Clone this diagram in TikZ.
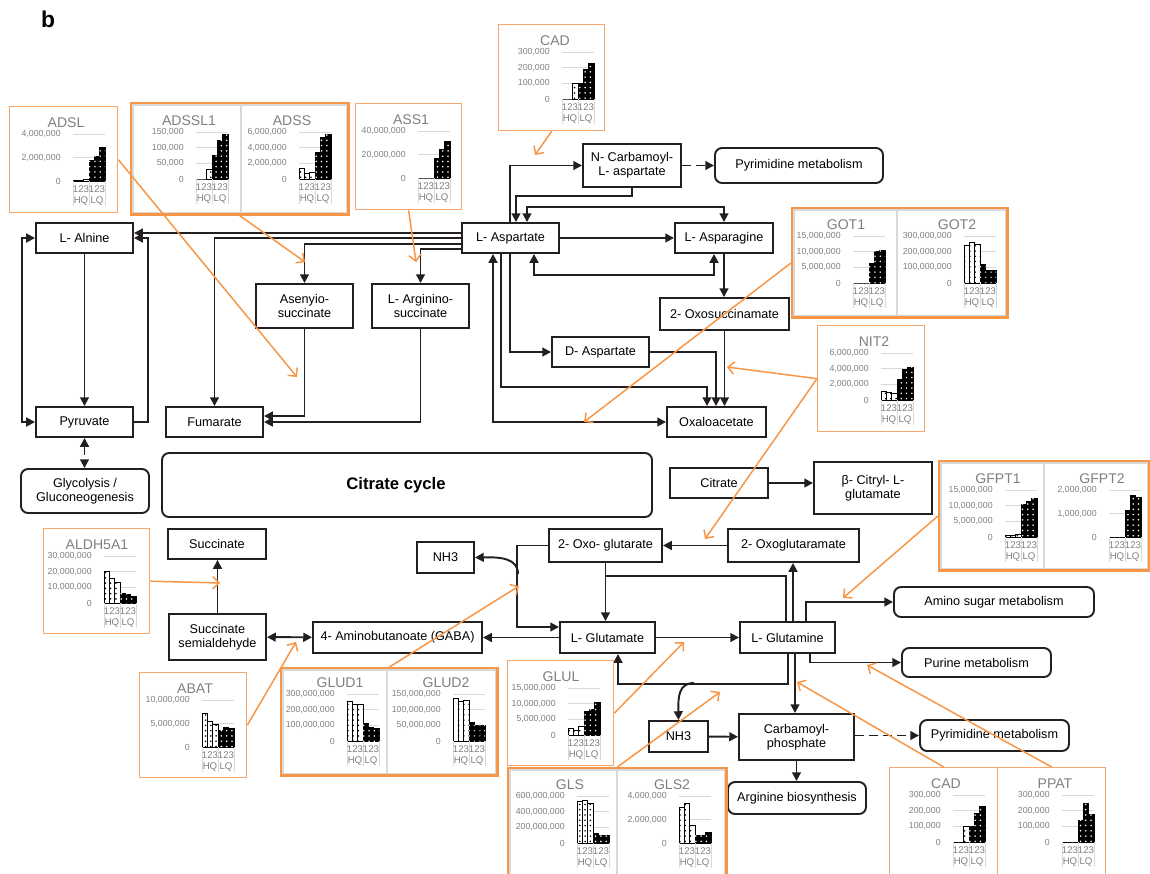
\documentclass[tikz,border=0pt]{standalone}
\usepackage{fontspec}
\setmainfont{Liberation Sans}
\usetikzlibrary{arrows.meta,patterns}

\definecolor{chartorange}{HTML}{F79646}
\definecolor{lightorange}{HTML}{F8A76C}
\definecolor{chartgray}{HTML}{7F7F7F}
\definecolor{gridgray}{HTML}{D9D9D9}
\definecolor{linegray}{HTML}{231F20}

\newcommand{\boxfont}{\fontsize{7.2}{8}\selectfont}
\newcommand{\tcafont}{\fontsize{9.5}{11}\selectfont\bfseries}
\newcommand{\chtitlefont}{\fontsize{8}{9}\selectfont}
\newcommand{\chtickfont}{\fontsize{5}{6}\selectfont}
\newcommand{\chcatfont}{\fontsize{5.5}{6}\selectfont}

% small bar chart: name, origin, title, number of ticks, tick labels, bar heights
\newcommand{\minichart}[6]{%
  \begin{scope}[shift={(#2)}]
    \node[ctitle] (#1-t) at (57,17) {#3};
    \foreach \lab [count=\ki] in {#5} {
      \pgfmathsetmacro{\ty}{28+(\ki-1)*47/(#4-1)}
      \draw[cgrid] (64,\ty) -- (96,\ty);
      \node[ctick] (#1-y\ki) at (52,\ty) {\lab};
    }
    \foreach \bh [count=\bi] in {#6} {
      \pgfmathsetmacro{\bx}{64+(\bi-1)*32/6}
      \ifnum\bi<4
        \draw[hqbar] (\bx,75) rectangle ++(32/6,-\bh);
      \else
        \draw[lqbar] (\bx,75) rectangle ++(32/6,-\bh);
      \fi
    }
    \draw[cgrid] (64,75) -- (64,100) (80,75) -- (80,100) (96,75) -- (96,100);
    \node[ccat] (#1-c1) at (72,83) {123};
    \node[ccat] (#1-c2) at (88,83) {123};
    \node[ccat] (#1-hq) at (72,95) {HQ};
    \node[ccat] (#1-lq) at (88,95) {LQ};
  \end{scope}}

\begin{document}
\begin{tikzpicture}[
    x=0.02cm, y=-0.02cm,
    >={Triangle[length=5pt,width=5pt]},
    sz/.style 2 args={minimum width=#1*0.02cm, minimum height=#2*0.02cm},
    met/.style={draw=linegray, line width=1.1pt, inner sep=0pt, align=center, font=\boxfont},
    pway/.style={met, rounded corners=4pt},
    conv/.style={->, line width=1.1pt, draw=linegray},
    dashlink/.style={conv, dash pattern=on 5pt off 3pt},
    hint/.style={draw=chartorange, line width=0.85pt, -{Straight Barb[length=3.5pt,width=7pt]}},
    sbox/.style={draw=lightorange, line width=0.75pt, anchor=north west, inner sep=0pt},
    dbox/.style={draw=chartorange, line width=1.6pt, anchor=north west, inner sep=0pt},
    inframe/.style={draw=gridgray, line width=0.6pt},
    cgrid/.style={draw=gridgray, line width=0.4pt},
    ctitle/.style={font=\chtitlefont, text=chartgray, inner sep=0pt},
    ctick/.style={font=\chtickfont, text=chartgray, inner sep=0pt, anchor=east},
    ccat/.style={font=\chcatfont, text=chartgray, inner sep=0pt},
    hqbar/.style={draw=black, line width=0.4pt, fill=white, postaction={pattern=dots, pattern color=black}},
    lqbar/.style={draw=black, line width=0.4pt, fill=black, postaction={pattern=dots, pattern color=white}}
  ]
  \useasboundingbox (0,0) rectangle (1150,873);
  \clip (0,0) rectangle (1150,873);

  \node[font=\fontsize{13}{15}\selectfont\bfseries] (panel) at (48,19) {b};

  % upper part
  \node[met, sz={98}{43}] (ncarb) at (632,165.5) {N- Carbamoyl-\\L- aspartate};
  \node[pway, sz={168}{35}] (pyr1) at (799,165.5) {Pyrimidine metabolism};
  \node[met, sz={97}{30}] (asp) at (510.5,238) {L- Aspartate};
  \node[met, sz={98}{30}] (asn) at (724,238) {L- Asparagine};
  \node[met, sz={129}{32}] (oxsuc) at (724.5,314) {2- Oxosuccinamate};
  \node[met, sz={97}{30}] (dasp) at (600.5,352) {D- Aspartate};
  \node[met, sz={99}{30}] (oaa) at (716.5,422) {Oxaloacetate};
  \node[met, sz={97}{30}] (ala) at (84.5,238) {L- Alnine};
  \node[met, sz={97}{44}] (adsucc) at (304.5,306) {Asenyio-\\succinate};
  \node[met, sz={97}{44}] (argsucc) at (420.5,306) {L- Arginino-\\succinate};
  \node[met, sz={97}{30}] (pyru) at (84.5,422) {Pyruvate};
  \node[met, sz={97}{30}] (fum) at (214.5,422) {Fumarate};
  \node[pway, sz={128}{44}] (glyc) at (85,491) {Glycolysis /\\Gluconeogenesis};
  \node[pway, sz={490}{64}, font=\tcafont] (tca) at (407,485) {Citrate cycle\hspace*{0.44cm}};
  \node[met, sz={98}{30}] (cit) at (719,483) {Citrate};
  \node[met, sz={118}{52}] (bcit) at (873,488) {β- Citryl- L-\\glutamate};

  \draw[conv] (asp.north -| 510,0) |- (ncarb.west);
  \draw[conv] (ncarb.south) -- ++(0,8) -| (asp.north -| 516,0);
  \draw[conv,<->] (asp.north -| 527,0) -- ++(0,-15) -| (asn.north);
  \draw[conv] (asp) -- (asn);
  \draw[conv,<->] (asp.south -| 534,0) -- ++(0,21) -| (asn.south -| 714,0);
  \draw[conv] (asn.south) -- (oxsuc.north -| asn.south);
  \draw[conv] (oxsuc.south) -- (oaa.north -| oxsuc.south);
  \draw[conv] (asp.south -| 510,0) |- (dasp.west);
  \draw[conv] (dasp.east) -| (oaa.north -| 716,0);
  \draw[conv] (asp.south -| 501,0) -- ++(0,133) -| (oaa.north -| 707,0);
  \draw[conv,<->] (asp.south -| 493,0) |- (oaa.west);
  \draw[conv] (asp.west |- 0,233) -- (ala.east |- 0,233);
  \draw[conv] (asp.west) -| (fum.north);
  \draw[conv] (asp.west |- 0,244) -| (adsucc.north);
  \draw[conv] (asp.west |- 0,249) -| (argsucc.north);
  \draw[conv] (adsucc.south) |- (fum.east |- 0,416);
  \draw[conv] (argsucc.south) |- (fum.east);
  \draw[conv] (ala) -- (pyru);
  \draw[conv,<->] (ala.west) -- ++(-13,0) |- (pyru.west);
  \draw[conv] (pyru.east) -- ++(14,0) |- (ala.east);
  \draw[dashlink,<->] (pyru.south) -- (glyc.north -| pyru.south);
  \draw[dashlink] (ncarb) -- (pyr1);
  \draw[conv] (cit.east) -- (bcit.west |- cit.east);

  % lower part
  \node[met, sz={98}{30}] (succ) at (217,544) {Succinate};
  \node[met, sz={97}{46}] (ssa) at (217.5,637) {Succinate\\semialdehyde};
  \node[met, sz={57}{31}] (nh3a) at (445.5,557.5) {NH3};
  \node[met, sz={169}{31}] (gaba) at (397.5,637.5) {4- Aminobutanoate (GABA)};
  \node[met, sz={113}{33}] (akg) at (605.5,545.5) {2- Oxo- glutarate};
  \node[met, sz={131}{33}] (akgm) at (793.5,545.5) {2- Oxoglutaramate};
  \node[met, sz={95}{31}] (glu) at (607.5,637.5) {L- Glutamate};
  \node[met, sz={95}{31}] (gln) at (787.5,637.5) {L- Glutamine};
  \node[pway, sz={200}{30}] (amsug) at (994,602) {Amino sugar metabolism};
  \node[pway, sz={149}{29}] (pur) at (976.5,662.5) {Purine metabolism};
  \node[met, sz={59}{31}] (nh3b) at (678.5,736.5) {NH3};
  \node[met, sz={115}{46}] (cp) at (796.5,737) {Carbamoyl-\\phosphate};
  \node[pway, sz={149}{31}] (pyr2) at (994.5,735.5) {Pyrimidine metabolism};
  \node[pway, sz={138}{32}] (argbio) at (797,798) {Arginine biosynthesis};

  \coordinate (jn) at (518,574);
  \coordinate (jq) at (694,683);
  \draw[conv] (akgm) -- (akg);
  \draw[conv] (akg.south) -- (glu.north -| akg.south);
  \draw[line width=1.1pt, draw=linegray] (gln.north -| 786,0) |- (akg.south |- 0,576);
  \draw[conv] (gln.north -| 793,0) -- (akgm.south -| 793,0);
  \draw[conv] (glu) -- (gln);
  \draw[conv] (gln.south -| 788,0) -- ++(0,30) -| (glu.south -| 618,0);
  \draw[conv] (gln.north -| 806,0) |- (amsug.west);
  \draw[conv] (gln.south -| 810,0) |- (pur.west);
  \draw[conv] (gln.south -| 795,0) -- (cp.north -| 795,0);
  \draw[conv] (nh3b) -- (cp);
  \draw[conv] (jq) .. controls (679,683) and (678,696) .. (nh3b.north);
  \draw[conv] (cp.south) -- (argbio.north -| cp.south);
  \draw[dashlink] (cp.east |- pyr2.west) -- (pyr2.west);
  \draw[conv] (glu) -- (gaba);
  \draw[conv,<->] (ssa) -- (gaba);
  \draw[conv] (ssa.north) -- (succ.south -| ssa.north);
  \draw[conv] (akg.west) -- ++(-31,0) |- (glu.west |- 0,627);
  \draw[conv] (jn) .. controls (518,558) and (500,557) .. (nh3a.east);

  % chart frames
  \node[sbox, sz={108}{106}] (adslbox) at (9,106) {};
  \node[dbox, sz={217}{111}] (adssbox) at (130,102) {};
  \node[sbox, sz={106}{106}] (ass1box) at (355,103) {};
  \node[sbox, sz={106}{106}] (cadtbox) at (498,24) {};
  \node[dbox, sz={215}{109}] (gotbox) at (791,207) {};
  \node[sbox, sz={107}{106}] (nit2box) at (817,325) {};
  \node[dbox, sz={210}{109}] (gfptbox) at (938,460) {};
  \node[sbox, sz={106}{105}] (aldhbox) at (43,528) {};
  \node[sbox, sz={107}{105}] (abatbox) at (139,672) {};
  \node[dbox, sz={216}{107}] (gludbox) at (280,667) {};
  \node[sbox, sz={106}{105}] (glulbox) at (507,660) {};
  \node[dbox, sz={218}{115}] (glsbox) at (507,767) {};
  \node[sbox, sz={108}{115}] (cadbbox) at (889,767) {};
  \node[sbox, sz={108}{115}] (ppatbox) at (997,767) {};

  \foreach \fb/\sx in {adssbox/241, gotbox/897, gfptbox/1044, gludbox/387, glsbox/617} {
    \draw[inframe] ([shift={(3,3)}]\fb.north west) rectangle ([shift={(-3,-3)}]\fb.south east);
    \draw[inframe] ([yshift=-1.5pt]\fb.north -| \sx,0) -- ([yshift=1.5pt]\fb.south -| \sx,0);
  }

  % charts
  \minichart{adsl}{9,106}{ADSL}{3}{{4,000,000},{2,000,000},{0}}{1,1,2,21,25,34}
  \minichart{adssl1}{132,104}{ADSSL1}{4}{{150,000},{100,000},{50,000},{0}}{0,0,10,24,39,45}
  \minichart{adss}{235,104}{ADSS}{4}{{6,000,000},{4,000,000},{2,000,000},{0}}{11,6,7,27,42,45}
  \minichart{ass1}{354,103}{ASS1}{3}{{40,000,000},{20,000,000},{0}}{0,0,0,20,29,37}
  \minichart{cadt}{498,24}{CAD}{4}{{300,000},{200,000},{100,000},{0}}{0,0,16,16,30,36}
  \minichart{got1}{789,208}{GOT1}{4}{{15,000,000},{10,000,000},{5,000,000},{0}}{0,0,0,20,32,33}
  \minichart{got2}{900,208}{GOT2}{4}{{300,000,000},{200,000,000},{100,000,000},{0}}{38,41,39,19,13,13}
  \minichart{nit2}{817,325}{NIT2}{4}{{6,000,000},{4,000,000},{2,000,000},{0}}{9,8,7,21,31,33}
  \minichart{gfpt1}{941,462}{GFPT1}{4}{{15,000,000},{10,000,000},{5,000,000},{0}}{2,2,3,33,36,39}
  \minichart{gfpt2}{1045,462}{GFPT2}{3}{{2,000,000},{1,000,000},{0}}{0,0,0,27,42,40}
  \minichart{aldh}{40,528}{ALDH5A1}{4}{{30,000,000},{20,000,000},{10,000,000},{0}}{32,25,21,10,9,7}
  \minichart{abat}{138,672}{ABAT}{3}{{10,000,000},{5,000,000},{0}}{34,26,23,17,20,19}
  \minichart{glud1}{283,666}{GLUD1}{4}{{300,000,000},{200,000,000},{100,000,000},{0}}{40,37,37,18,14,13}
  \minichart{glud2}{389,666}{GLUD2}{4}{{150,000,000},{100,000,000},{50,000,000},{0}}{43,40,41,19,16,16}
  \minichart{glul}{504,660}{GLUL}{4}{{15,000,000},{10,000,000},{5,000,000},{0}}{7,5,9,24,26,33}
  \minichart{gls}{513,768}{GLS}{4}{{600,000,000},{400,000,000},{200,000,000},{0}}{42,43,40,10,8,8}
  \minichart{gls2}{615,768}{GLS2}{3}{{4,000,000},{2,000,000},{0}}{36,40,18,8,8,11}
  \minichart{cadb}{889,767}{CAD}{4}{{300,000},{200,000},{100,000},{0}}{0,0,16,16,29,36}
  \minichart{ppat}{998,767}{PPAT}{4}{{300,000},{200,000},{100,000},{0}}{0,0,0,22,39,28}

  % enzyme pointers
  \coordinate (p-fum) at (297,377);
  \coordinate (p-adsucc) at (305,262);
  \coordinate (p-argsucc) at (416,262);
  \coordinate (p-ncarb) at (535,155);
  \coordinate (p-oaa) at (584,422);
  \coordinate (p-oxsuc) at (727,367);
  \coordinate (p-akg) at (705,539);
  \coordinate (p-amsug) at (843,598);
  \coordinate (p-succ) at (220,583);
  \coordinate (p-gaba) at (296,642);
  \coordinate (p-nh3) at (519,586);
  \coordinate (p-gln) at (684,642);
  \coordinate (p-nh3b) at (720,692);
  \coordinate (p-cp) at (797,682);
  \coordinate (p-pur) at (867,665);

  \draw[hint] (adslbox.east) -- (p-fum);
  \draw[hint] (adssbox.south) -- (p-adsucc);
  \draw[hint] (ass1box.south) -- (p-argsucc);
  \draw[hint] (cadtbox.south) -- (p-ncarb);
  \draw[hint] (gotbox.west) -- (p-oaa);
  \draw[hint] (nit2box.west) -- (p-oxsuc);
  \draw[hint] (nit2box.west) -- (p-akg);
  \draw[hint] (gfptbox.west) -- (p-amsug);
  \draw[hint] (aldhbox.east) -- (p-succ);
  \draw[hint] (abatbox.east) -- (p-gaba);
  \draw[hint] (gludbox.north) -- (p-nh3);
  \draw[hint] (glulbox.east) -- (p-gln);
  \draw[hint] (glsbox.north) -- (p-nh3b);
  \draw[hint] (cadbbox.north) -- (p-cp);
  \draw[hint] (ppatbox.north) -- (p-pur);
\end{tikzpicture}
\end{document}
